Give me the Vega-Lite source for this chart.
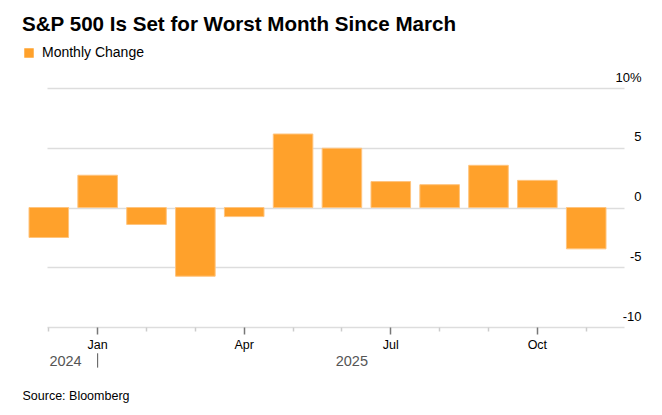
{
  "$schema": "https://vega.github.io/schema/vega-lite/v6.json",
  "width": 609,
  "height": 239,
  "autosize": {"type": "none"},
  "padding": {"left": 22, "top": 88, "right": 31, "bottom": 88},
  "config": {"font": "Liberation Sans", "view": {"stroke": null}},
  "title": {
    "text": "S&P 500 Is Set for Worst Month Since March",
    "anchor": "start",
    "frame": "group",
    "fontSize": 20.6,
    "fontWeight": "bold",
    "color": "#000000",
    "offset": 10
  },
  "datasets": {
    "monthly": [
      {"month": "Dec 2024", "change": -2.51, "series": "Monthly Change"},
      {"month": "Jan 2025", "change": 2.70, "series": "Monthly Change"},
      {"month": "Feb 2025", "change": -1.42, "series": "Monthly Change"},
      {"month": "Mar 2025", "change": -5.75, "series": "Monthly Change"},
      {"month": "Apr 2025", "change": -0.76, "series": "Monthly Change"},
      {"month": "May 2025", "change": 6.15, "series": "Monthly Change"},
      {"month": "Jun 2025", "change": 4.96, "series": "Monthly Change"},
      {"month": "Jul 2025", "change": 2.17, "series": "Monthly Change"},
      {"month": "Aug 2025", "change": 1.91, "series": "Monthly Change"},
      {"month": "Sep 2025", "change": 3.53, "series": "Monthly Change"},
      {"month": "Oct 2025", "change": 2.27, "series": "Monthly Change"},
      {"month": "Nov 2025", "change": -3.46, "series": "Monthly Change"}
    ],
    "y2024": [{"month": "Jan 2025", "label": "2024"}],
    "y2025": [{"month": "Jun 2025", "label": "2025"}]
  },
  "layer": [
    {
      "data": {"name": "monthly"},
      "mark": {"type": "bar", "stroke": "#ffc47e", "strokeWidth": 1},
      "encoding": {
        "x": {
          "field": "month",
          "type": "ordinal",
          "sort": null,
          "scale": {
            "type": "band",
            "domain": ["Dec 2024", "Jan 2025", "Feb 2025", "Mar 2025", "Apr 2025", "May 2025", "Jun 2025", "Jul 2025", "Aug 2025", "Sep 2025", "Oct 2025", "Nov 2025"],
            "range": [7, 584],
            "paddingInner": 0.19,
            "paddingOuter": 0
          },
          "axis": {
            "orient": "bottom",
            "title": "Source: Bloomberg",
            "titleX": 0,
            "titleY": 72,
            "titleAnchor": "start",
            "titleAlign": "left",
            "titleBaseline": "alphabetic",
            "titleFontWeight": "normal",
            "titleFontSize": 12.5,
            "titleColor": "#000000",
            "domain": false,
            "grid": false,
            "bandPosition": 0.5,
            "labelAngle": 0,
            "labelBaseline": "top",
            "labelPadding": 4,
            "labelFontSize": 12.5,
            "labelColor": "#000000",
            "labelExpr": "test(/^(Jan|Apr|Jul|Oct)/, datum.value) ? slice(datum.value, 0, 3) : ''",
            "tickWidth": 1.5,
            "tickSize": {"condition": {"test": "test(/^(Jan|Apr|Jul|Oct)/, datum.value)", "value": 7}, "value": 4},
            "tickColor": {"condition": {"test": "test(/^(Jan|Apr|Jul|Oct)/, datum.value)", "value": "#777777"}, "value": "#cccccc"}
          }
        },
        "y": {
          "field": "change",
          "type": "quantitative",
          "scale": {"domain": [-10, 10], "nice": false},
          "axis": {
            "orient": "right",
            "title": null,
            "values": [-10, -5, 0, 5, 10],
            "grid": true,
            "gridColor": "#dddddd",
            "gridWidth": 1.5,
            "domain": false,
            "ticks": false,
            "labelAlign": "right",
            "labelPadding": 10,
            "labelBaseline": "alphabetic",
            "labelOffset": -7,
            "labelFontSize": 13,
            "labelColor": "#000000",
            "labelExpr": "datum.value == 10 ? '10%' : '' + datum.value"
          }
        },
        "color": {
          "field": "series",
          "type": "nominal",
          "scale": {"range": ["#ffa12b"]},
          "legend": {
            "orient": "none",
            "legendX": 0,
            "legendY": -42,
            "title": null,
            "symbolType": "square",
            "symbolSize": 90,
            "symbolStrokeWidth": 0,
            "labelFontSize": 14,
            "labelColor": "#000000",
            "labelOffset": 6
          }
        }
      }
    },
    {
      "mark": {"type": "rule", "color": "#000000", "strokeWidth": 1.5},
      "encoding": {"y": {"datum": 0}}
    },
    {
      "data": {"name": "y2024"},
      "mark": {"type": "text", "align": "right", "baseline": "middle", "dx": -16, "fontSize": 14.5, "color": "#555555"},
      "encoding": {
        "x": {"field": "month", "type": "ordinal", "bandPosition": 0.5},
        "y": {"datum": -12.9},
        "text": {"field": "label"}
      }
    },
    {
      "data": {"name": "y2024"},
      "mark": {"type": "rule", "color": "#555555", "strokeWidth": 1},
      "encoding": {
        "x": {"field": "month", "type": "ordinal", "bandPosition": 0.5},
        "y": {"datum": -12.2},
        "y2": {"datum": -13.4}
      }
    },
    {
      "data": {"name": "y2025"},
      "mark": {"type": "text", "align": "center", "baseline": "middle", "fontSize": 14.5, "color": "#555555"},
      "encoding": {
        "x": {"field": "month", "type": "ordinal", "bandPosition": 0.75},
        "y": {"datum": -12.9},
        "text": {"field": "label"}
      }
    }
  ]
}
